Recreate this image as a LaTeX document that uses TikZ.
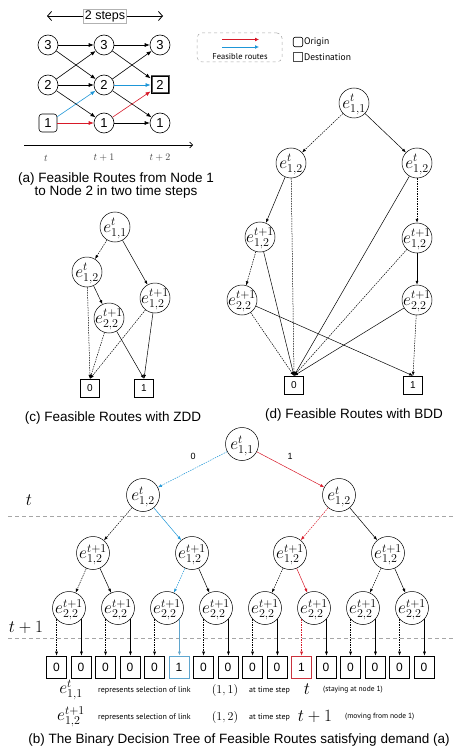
\documentclass[tikz,border=0pt]{standalone}
\usepackage[no-math]{fontspec}
\setsansfont{Liberation Sans}
\newfontfamily\ptsans{PT Sans}
\usetikzlibrary{arrows.meta,calc}
\definecolor{rblue}{RGB}{30,150,215}
\definecolor{rred}{RGB}{215,25,40}
\definecolor{lblue}{RGB}{95,165,205}
\definecolor{lred}{RGB}{200,50,60}
\newcommand{\ctext}[1]{\raisebox{-0.3em}[0pt][0pt]{\makebox[0pt]{#1}}}
\begin{document}
\begin{tikzpicture}[x=1pt,y=-1pt,
  tip/.style={-{Latex[length=4pt,width=3pt]}},
  sol/.style={tip, line width=0.5pt},
  dsh/.style={tip, line width=0.5pt, dash pattern=on 1.5pt off 1pt},
  anode/.style={circle,draw,line width=0.6pt,minimum size=20pt,inner sep=0pt,font=\sffamily\fontsize{13}{13}\selectfont},
  aedge/.style={-{Latex[length=5pt,width=4pt]}, line width=0.6pt},
  enode/.style={circle,draw,line width=0.5pt,minimum size=30pt,inner sep=0pt,font=\fontsize{17}{17}\selectfont},
  bnode/.style={circle,draw,line width=0.5pt,minimum size=33pt,inner sep=0pt,font=\fontsize{18}{18}\selectfont},
  term/.style={draw,line width=0.5pt,minimum width=19pt,minimum height=18pt,inner sep=0pt,font=\sffamily\fontsize{10}{10}\selectfont},
  bterm/.style={draw,line width=0.7pt,minimum width=20pt,minimum height=22pt,inner sep=0pt,font=\sffamily\fontsize{12}{12}\selectfont},
  captext/.style={font=\sffamily\fontsize{13.5}{13}\selectfont, align=center, inner sep=0pt},
  smalltext/.style={font=\ptsans\fontsize{8}{8}\selectfont, anchor=west, inner sep=0pt},
  sepline/.style={draw=black!35, line width=0.8pt, dash pattern=on 4pt off 3pt},
]
\useasboundingbox (0,0) rectangle (454,754);

% ---------------- (a) ----------------
\coordinate (sl) at (47,16);
\coordinate (sr) at (163,16);
\draw[{Straight Barb[length=4pt,width=9pt]}-{Straight Barb[length=4pt,width=9pt]}, line width=0.8pt] (sl) -- (sr);
\node[draw=black!30, line width=0.6pt, inner sep=1.5pt, fill=white, font=\sffamily\fontsize{12.5}{12.5}\selectfont] (steps) at (105,16) {2 steps};

\node[anode] (a31) at (48,45) {3};
\node[anode] (a32) at (104,45) {3};
\node[anode] (a33) at (160,45) {3};
\node[anode] (a21) at (48,85) {2};
\node[anode] (a22) at (104,85) {2};
\node[draw=black!65, line width=2pt, minimum size=17pt, inner sep=0pt, font=\sffamily\fontsize{13}{13}\selectfont] (a23) at (160,85) {2};
\draw[line width=0.5pt] ($(a23.north west)+(1.2,1.2)$) rectangle ($(a23.south east)+(-1.2,-1.2)$);
\node[draw, rounded corners=3pt, line width=0.6pt, minimum size=18pt, inner sep=0pt, font=\sffamily\fontsize{13}{13}\selectfont] (a11) at (48,123) {1};
\node[anode] (a12) at (104,123) {1};
\node[anode] (a13) at (160,123) {1};

\draw[aedge] (a31) -- (a32);
\draw[aedge] (a31) -- (a22);
\draw[aedge] (a21) -- (a32);
\draw[aedge] (a21) -- (a22);
\draw[aedge] (a21) -- (a12);
\draw[aedge, rblue] (a11) -- (a22);
\draw[aedge, rred] (a11) -- (a12);
\draw[aedge] (a32) -- (a33);
\draw[aedge] (a32) -- (a23);
\draw[aedge] (a22) -- (a33);
\draw[aedge, rblue] (a22) -- (a23);
\draw[aedge] (a22) -- (a13);
\draw[aedge, rred] (a12) -- (a23);
\draw[aedge] (a12) -- (a13);

\coordinate (ax0) at (24,145);
\coordinate (ax1) at (193,145);
\draw[-{Straight Barb[length=3pt,width=6pt]}, line width=0.6pt] (ax0) -- (ax1);
\node[font=\fontsize{10}{10}\selectfont, text=black!75] (lt0) at (46,158) {$t$};
\node[font=\fontsize{10}{10}\selectfont, text=black!75] (lt1) at (104,158) {$t+1$};
\node[font=\fontsize{10}{10}\selectfont, text=black!75] (lt2) at (160,158) {$t+2$};

\node[captext] (capa) at (116,186) {(a) Feasible Routes from Node 1\\to Node 2 in two time steps};

% legend
\node[draw=black!35, dashed, rounded corners=5pt, line width=0.5pt, minimum width=85pt, minimum height=29pt] (leg) at (239.5,47.5) {};
\coordinate (lr0) at (222,39.5);
\coordinate (lr1) at (259,39.5);
\coordinate (lb0) at (222,47);
\coordinate (lb1) at (259,47);
\draw[-{Latex[length=4pt,width=4pt]}, rred, line width=0.8pt] (lr0) -- (lr1);
\draw[-{Latex[length=4pt,width=4pt]}, rblue, line width=0.8pt] (lb0) -- (lb1);
\node[font=\ptsans\fontsize{8.5}{8.5}\selectfont, inner sep=0pt] (legt) at (240,56.5) {Feasible routes};
\node[draw, rounded corners=2pt, minimum size=9.5pt, inner sep=0pt, line width=0.6pt] (org) at (298,42) {};
\node[font=\ptsans\fontsize{9.5}{9.5}\selectfont, anchor=west, inner sep=0pt] (orgt) at (304,42) {Origin};
\node[draw=black!70, line width=1.6pt, minimum size=9pt, inner sep=0pt] (dst) at (298,57) {};
\node[font=\ptsans\fontsize{9.5}{9.5}\selectfont, anchor=west, inner sep=0pt] (dstt) at (304,57) {Destination};

% ---------------- (c) ----------------
\node[enode] (c11) at (115,227) {\ctext{$e^{t}_{1,1}$}};
\node[enode] (c12) at (87,272) {\ctext{$e^{t}_{1,2}$}};
\node[enode] (c22) at (109,318) {\ctext{$e^{t+1}_{2,2}$}};
\node[enode] (c12b) at (155,298) {\ctext{$e^{t+1}_{1,2}$}};
\node[term] (c0) at (90,388) {0};
\node[term] (c1) at (144,388) {1};
\draw[dsh] (c11) -- (c12);
\draw[sol] (c11) -- (c12b);
\draw[sol] (c12) -- (c22);
\draw[dsh] (c12) -- (c0.north);
\draw[dsh] (c22) -- (c0.north);
\draw[sol] (c22) -- (c1.north);
\draw[dsh] (c12b) -- (c0.north);
\draw[sol] (c12b) -- (c1.north);
\node[captext] (capc) at (113,418) {(c) Feasible Routes with ZDD};

% ---------------- (d) ----------------
\node[enode] (d11) at (354,103) {\ctext{$e^{t}_{1,1}$}};
\node[enode] (d12l) at (291,163) {\ctext{$e^{t}_{1,2}$}};
\node[enode] (d12r) at (417,163) {\ctext{$e^{t}_{1,2}$}};
\node[enode] (d13l) at (260,237) {\ctext{$e^{t+1}_{1,2}$}};
\node[enode] (d13r) at (417,238) {\ctext{$e^{t+1}_{1,2}$}};
\node[enode] (d22l) at (242,300) {\ctext{$e^{t+1}_{2,2}$}};
\node[enode] (d22r) at (417,300) {\ctext{$e^{t+1}_{2,2}$}};
\node[term] (d0) at (294,385) {0};
\node[term] (d1) at (413,385) {1};
\draw[dsh] (d11) -- (d12l);
\draw[sol] (d11) -- (d12r);
\draw[sol] (d12l) -- (d13l);
\draw[dsh] (d12l) -- (d0.north);
\draw[sol] (d12r) -- (d0.north);
\draw[dsh] (d12r) -- (d13r);
\draw[dsh] (d13l) -- (d22l);
\draw[sol] (d13l) -- (d0.north);
\draw[dsh] (d22l) -- (d0.north);
\draw[sol] (d22l) -- (d1.north);
\draw[dsh] (d13r) -- (d0.north);
\draw[sol] (d13r) -- (d22r);
\draw[sol] (d22r) -- (d0.north);
\draw[dsh] (d22r) -- (d1.north);
\node[captext] (capd) at (354,415) {(d) Feasible Routes with BDD};

% ---------------- (b) ----------------
\draw[sepline] (8,516) -- (454,516);
\draw[sepline] (8,638) -- (454,638);
\node[font=\fontsize{16}{16}\selectfont] (lbt) at (29,500) {$t$};
\node[font=\fontsize{16}{16}\selectfont] (lbt1) at (26,627) {$t+1$};

\node[bnode] (b1) at (242,444) {\ctext{$e^{t}_{1,1}$}};
\node[bnode] (b2a) at (143,495) {\ctext{$e^{t}_{1,2}$}};
\node[bnode] (b2b) at (339,495) {\ctext{$e^{t}_{1,2}$}};
\foreach \i/\x in {a/93,b/192,c/290,d/388}{
  \node[bnode] (b3\i) at (\x,553) {\ctext{$e^{t+1}_{1,2}$}};
}
\foreach \i/\x in {a/69,b/118,c/167,d/216,e/265,f/314,g/363,h/412}{
  \node[bnode] (b4\i) at (\x,608) {\ctext{$e^{t+1}_{2,2}$}};
}
\foreach \k/\v in {1/0,2/0,3/0,4/0,5/0,7/0,8/0,9/0,10/0,12/0,13/0,14/0,15/0,16/0}{
  \node[bterm] (bx\k) at ({56.5+24.5*(\k-1)},667) {\v};
}
\node[bterm, draw=lblue] (bx6) at ({56.5+24.5*5},667) {1};
\node[bterm, draw=lred] (bx11) at ({56.5+24.5*10},667) {1};

\draw[dsh, rblue] (b1) -- (b2a);
\draw[sol, rred] (b1) -- (b2b);
\node[font=\sffamily\fontsize{9}{9}\selectfont] (l0) at (193,456) {0};
\node[font=\sffamily\fontsize{9}{9}\selectfont] (l1) at (290,456) {1};

\draw[dsh] (b2a) -- (b3a);
\draw[sol, rblue] (b2a) -- (b3b);
\draw[dsh, rred] (b2b) -- (b3c);
\draw[sol] (b2b) -- (b3d);

\draw[dsh] (b3a) -- (b4a);
\draw[sol] (b3a) -- (b4b);
\draw[dsh, rblue] (b3b) -- (b4c);
\draw[sol] (b3b) -- (b4d);
\draw[dsh] (b3c) -- (b4e);
\draw[sol, rred] (b3c) -- (b4f);
\draw[dsh] (b3d) -- (b4g);
\draw[sol] (b3d) -- (b4h);

\foreach \n/\l/\r in {a/1/2,b/3/4,d/7/8,e/9/10,g/13/14,h/15/16}{
  \draw[dsh] (b4\n.-138) -- (b4\n.-138 |- bx\l.north);
  \draw[sol] (b4\n.-42) -- (b4\n.-42 |- bx\r.north);
}
\draw[dsh] (b4c.-138) -- (b4c.-138 |- bx5.north);
\draw[tip, draw=lblue, fill=rblue, line width=0.8pt] (b4c.-42) -- (b4c.-42 |- bx6.north);
\draw[dsh, rred] (b4f.-138) -- (b4f.-138 |- bx11.north);
\draw[sol] (b4f.-42) -- (b4f.-42 |- bx12.north);

% explanation lines
\node[font=\fontsize{18}{18}\selectfont, inner sep=0pt] (ex1) at (71,690) {$e^{t}_{1,1}$};
\node[smalltext] (ex1a) at (98,690) {represents selection of link};
\node[font=\fontsize{12}{12}\selectfont, inner sep=0pt] (ex1b) at (225,690) {$(1,1)$};
\node[smalltext] (ex1c) at (249,690) {at time step};
\node[font=\fontsize{18}{18}\selectfont, inner sep=0pt] (ex1d) at (307,689) {$t$};
\node[smalltext, font=\ptsans\fontsize{7.5}{7.5}\selectfont] (ex1e) at (323,690) {(staying at node 1)};

\node[font=\fontsize{18}{18}\selectfont, inner sep=0pt] (ex2) at (71,717) {$e^{t+1}_{1,2}$};
\node[smalltext] (ex2a) at (98,717) {represents selection of link};
\node[font=\fontsize{12}{12}\selectfont, inner sep=0pt] (ex2b) at (225,717) {$(1,2)$};
\node[smalltext] (ex2c) at (249,717) {at time step};
\node[font=\fontsize{18}{18}\selectfont, inner sep=0pt] (ex2d) at (315,716) {$t+1$};
\node[smalltext, font=\ptsans\fontsize{7.5}{7.5}\selectfont] (ex2e) at (345,717) {(moving from node 1)};

\node[captext] (capb) at (239,740) {(b) The Binary Decision Tree of Feasible Routes satisfying demand (a)};
\end{tikzpicture}
\end{document}
